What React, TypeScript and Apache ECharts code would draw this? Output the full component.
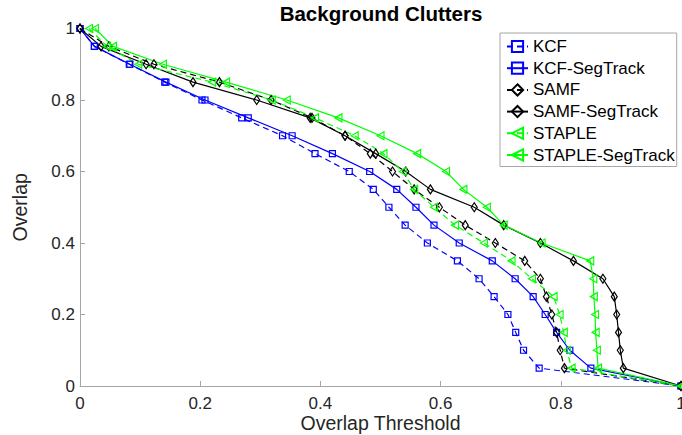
import React, { useEffect, useRef } from "react";
import * as echarts from "echarts";

// Overlap levels (y) shared by every curve
const overlapLevels = [1, 0.95, 0.9, 0.85, 0.8, 0.75, 0.7, 0.65, 0.6, 0.55, 0.5, 0.45, 0.4, 0.35, 0.3, 0.25, 0.2, 0.15, 0.1, 0.05, 0];

// Overlap threshold (x) for each level, per tracker
const kcf = [0, 0.024, 0.082, 0.141, 0.203, 0.269, 0.337, 0.391, 0.448, 0.488, 0.514, 0.541, 0.578, 0.628, 0.664, 0.689, 0.712, 0.725, 0.738, 0.764, 1];
const kcfSeg = [0, 0.024, 0.083, 0.143, 0.208, 0.28, 0.353, 0.42, 0.482, 0.527, 0.559, 0.589, 0.631, 0.686, 0.724, 0.754, 0.774, 0.793, 0.815, 0.85, 1];
const samf = [0, 0.048, 0.123, 0.232, 0.318, 0.386, 0.441, 0.483, 0.52, 0.556, 0.598, 0.641, 0.691, 0.74, 0.766, 0.776, 0.785, 0.793, 0.799, 0.806, 1];
const samfSeg = [0, 0.035, 0.11, 0.188, 0.294, 0.383, 0.441, 0.492, 0.542, 0.583, 0.656, 0.705, 0.766, 0.821, 0.87, 0.889, 0.893, 0.896, 0.899, 0.904, 1];
const staple = [0.015, 0.045, 0.097, 0.22, 0.319, 0.391, 0.457, 0.505, 0.537, 0.556, 0.589, 0.624, 0.672, 0.718, 0.752, 0.788, 0.798, 0.805, 0.81, 0.818, 1];
const stapleSeg = [0.025, 0.055, 0.138, 0.243, 0.344, 0.43, 0.5, 0.561, 0.609, 0.638, 0.677, 0.705, 0.768, 0.849, 0.854, 0.855, 0.857, 0.858, 0.86, 0.862, 1];

const seriesNames = ["KCF", "KCF-SegTrack", "SAMF", "SAMF-SegTrack", "STAPLE", "STAPLE-SegTrack"];
const axisTicks = [0, 0.2, 0.4, 0.6, 0.8, 1];

const FONT = "'Liberation Sans', Arial, sans-serif";

export default function App() {
  const ref = useRef<HTMLDivElement>(null);

  useEffect(() => {
    if (!ref.current) return;
    const chart = echarts.init(ref.current, undefined, { renderer: "svg" });

    const mk = (
      name: string,
      xs: number[],
      color: string,
      dashed: boolean,
      symbol: string,
      symbolSize: number | number[],
      rotate = 0
    ) => ({
      name,
      type: "line",
      data: xs.map((x, i) => [x, overlapLevels[i]]),
      symbol,
      symbolSize,
      symbolRotate: rotate,
      showSymbol: true,
      clip: false,
      lineStyle: { color, width: 1.2, type: dashed ? [6, 4] : "solid" },
      itemStyle: { color: "rgba(0,0,0,0)", borderColor: color, borderWidth: 1.2 },
      emphasis: { disabled: true },
    });

    const axisCommon = {
      type: "value",
      min: 0,
      max: 1,
      interval: 0.2,
      splitLine: { show: false },
      axisLine: { show: true, lineStyle: { color: "#a6a6a6", width: 1 } },
      axisTick: { show: true, inside: true, length: 5, lineStyle: { color: "#a6a6a6" } },
      axisLabel: {
        color: "#262626",
        fontSize: 17,
        fontFamily: FONT,
        formatter: (v: number) => (axisTicks.includes(Math.round(v * 10) / 10) ? String(Math.round(v * 10) / 10) : ""),
      },
      nameMoveOverlap: false,
      nameTextStyle: { color: "#262626", fontSize: 19.5, fontFamily: FONT },
    };

    chart.setOption({
      animation: false,
      backgroundColor: "#ffffff",
      textStyle: { fontFamily: FONT },
      grid: { left: 80, right: 1, top: 28.5, height: 357.5, containLabel: false, outerBoundsMode: "none" },
      graphic: [
        {
          type: "text",
          x: 381,
          y: 3,
          style: {
            text: "Background Clutters",
            fill: "#000",
            font: `bold 20.5px ${FONT}`,
            textAlign: "center",
            textVerticalAlign: "top",
          },
        },
      ],
      legend: {
        orient: "vertical",
        left: 500,
        top: 33,
        itemWidth: 21,
        itemHeight: 14,
        itemGap: 4.7,
        padding: [5, 2, 3, 6],
        borderColor: "#a6a6a6",
        borderWidth: 1,
        backgroundColor: "#fff",
        textStyle: { color: "#000", fontSize: 17, fontFamily: FONT },
        data: seriesNames,
      },
      xAxis: {
        ...axisCommon,
        name: "Overlap Threshold",
        nameLocation: "middle",
        nameGap: 27,
        axisLabel: { ...axisCommon.axisLabel, margin: 9 },
      },
      yAxis: {
        ...axisCommon,
        name: "Overlap",
        nameLocation: "middle",
        nameGap: 50,
        axisLabel: { ...axisCommon.axisLabel, margin: 5 },
      },
      series: [
        mk(seriesNames[0], kcf, "#0000ff", true, "rect", 6),
        mk(seriesNames[1], kcfSeg, "#0000ff", false, "rect", 6),
        mk(seriesNames[2], samf, "#000000", true, "diamond", [6, 9]),
        mk(seriesNames[3], samfSeg, "#000000", false, "diamond", [6, 9]),
        mk(seriesNames[4], staple, "#00ff00", true, "triangle", [8, 7], 90),
        mk(seriesNames[5], stapleSeg, "#00ff00", false, "triangle", [8, 7], 90),
      ],
    });

    return () => chart.dispose();
  }, []);

  return (
    <div
      ref={ref}
      style={{ position: "fixed", left: 0, top: 0, width: 682, height: 435, background: "#fff" }}
    />
  );
}
